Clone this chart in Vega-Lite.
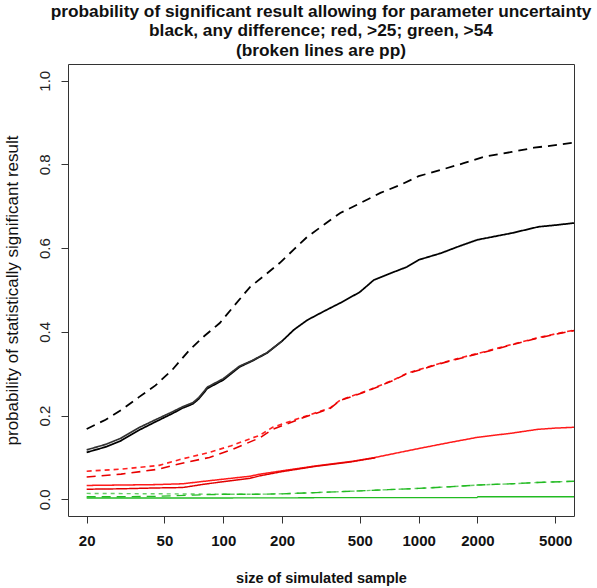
{
  "$schema": "https://vega.github.io/schema/vega-lite/v6.json",
  "width": 506,
  "height": 452,
  "autosize": {"type": "none"},
  "padding": {"left": 68, "top": 64, "right": 23, "bottom": 72},
  "background": "white",
  "view": {"stroke": "#333333", "strokeWidth": 1},
  "title": {
    "text": ["probability of significant result allowing for parameter uncertainty", "black, any difference; red, >25; green, >54", "(broken lines are pp)"],
    "font": "Liberation Sans",
    "fontSize": 17.3,
    "fontWeight": "bold",
    "lineHeight": 19.5,
    "anchor": "middle",
    "offset": 5,
    "color": "#111111"
  },
  "data": {
    "values": [
      {"series": "A", "n": 20, "p": 0.168}, {"series": "A", "n": 25, "p": 0.19}, {"series": "A", "n": 30, "p": 0.213}, {"series": "A", "n": 37, "p": 0.244}, {"series": "A", "n": 45, "p": 0.272}, {"series": "A", "n": 55, "p": 0.31}, {"series": "A", "n": 67, "p": 0.356}, {"series": "A", "n": 80, "p": 0.39}, {"series": "A", "n": 96, "p": 0.421}, {"series": "A", "n": 115, "p": 0.465}, {"series": "A", "n": 137, "p": 0.507}, {"series": "A", "n": 165, "p": 0.537}, {"series": "A", "n": 195, "p": 0.565}, {"series": "A", "n": 230, "p": 0.597}, {"series": "A", "n": 269, "p": 0.627}, {"series": "A", "n": 330, "p": 0.657}, {"series": "A", "n": 397, "p": 0.684}, {"series": "A", "n": 500, "p": 0.707}, {"series": "A", "n": 637, "p": 0.732}, {"series": "A", "n": 805, "p": 0.751}, {"series": "A", "n": 1000, "p": 0.772}, {"series": "A", "n": 1300, "p": 0.787}, {"series": "A", "n": 1700, "p": 0.803}, {"series": "A", "n": 2150, "p": 0.818}, {"series": "A", "n": 3000, "p": 0.83}, {"series": "A", "n": 3900, "p": 0.84}, {"series": "A", "n": 5000, "p": 0.846}, {"series": "A", "n": 6238, "p": 0.852},
      {"series": "B", "n": 20, "p": 0.112}, {"series": "B", "n": 25, "p": 0.125}, {"series": "B", "n": 30, "p": 0.14}, {"series": "B", "n": 37, "p": 0.165}, {"series": "B", "n": 45, "p": 0.185}, {"series": "B", "n": 55, "p": 0.205}, {"series": "B", "n": 62, "p": 0.218}, {"series": "B", "n": 70, "p": 0.228}, {"series": "B", "n": 75, "p": 0.24}, {"series": "B", "n": 83, "p": 0.265}, {"series": "B", "n": 100, "p": 0.285}, {"series": "B", "n": 121, "p": 0.316}, {"series": "B", "n": 140, "p": 0.33}, {"series": "B", "n": 167, "p": 0.349}, {"series": "B", "n": 200, "p": 0.378}, {"series": "B", "n": 230, "p": 0.405}, {"series": "B", "n": 269, "p": 0.428}, {"series": "B", "n": 330, "p": 0.45}, {"series": "B", "n": 397, "p": 0.469}, {"series": "B", "n": 500, "p": 0.495}, {"series": "B", "n": 590, "p": 0.524}, {"series": "B", "n": 700, "p": 0.538}, {"series": "B", "n": 870, "p": 0.555}, {"series": "B", "n": 1000, "p": 0.572}, {"series": "B", "n": 1300, "p": 0.588}, {"series": "B", "n": 1600, "p": 0.604}, {"series": "B", "n": 2000, "p": 0.62}, {"series": "B", "n": 3000, "p": 0.636}, {"series": "B", "n": 4100, "p": 0.651}, {"series": "B", "n": 5000, "p": 0.655}, {"series": "B", "n": 6238, "p": 0.66},
      {"series": "C", "n": 20, "p": 0.118}, {"series": "C", "n": 25, "p": 0.131}, {"series": "C", "n": 30, "p": 0.146}, {"series": "C", "n": 37, "p": 0.171}, {"series": "C", "n": 45, "p": 0.19}, {"series": "C", "n": 55, "p": 0.209}, {"series": "C", "n": 62, "p": 0.221}, {"series": "C", "n": 70, "p": 0.231}, {"series": "C", "n": 75, "p": 0.243}, {"series": "C", "n": 83, "p": 0.268}, {"series": "C", "n": 100, "p": 0.288}, {"series": "C", "n": 121, "p": 0.318}, {"series": "C", "n": 140, "p": 0.331}, {"series": "C", "n": 167, "p": 0.35}, {"series": "C", "n": 200, "p": 0.378},
      {"series": "D", "n": 20, "p": 0.067}, {"series": "D", "n": 30, "p": 0.072}, {"series": "D", "n": 47, "p": 0.081}, {"series": "D", "n": 60, "p": 0.095}, {"series": "D", "n": 85, "p": 0.112}, {"series": "D", "n": 110, "p": 0.128}, {"series": "D", "n": 154, "p": 0.153}, {"series": "D", "n": 179, "p": 0.172}, {"series": "D", "n": 250, "p": 0.195}, {"series": "D", "n": 352, "p": 0.218}, {"series": "D", "n": 397, "p": 0.237}, {"series": "D", "n": 550, "p": 0.26}, {"series": "D", "n": 742, "p": 0.285}, {"series": "D", "n": 870, "p": 0.301}, {"series": "D", "n": 1291, "p": 0.325}, {"series": "D", "n": 1700, "p": 0.34}, {"series": "D", "n": 2149, "p": 0.352}, {"series": "D", "n": 3000, "p": 0.37}, {"series": "D", "n": 4000, "p": 0.385}, {"series": "D", "n": 5000, "p": 0.395}, {"series": "D", "n": 6238, "p": 0.404},
      {"series": "E", "n": 20, "p": 0.053}, {"series": "E", "n": 30, "p": 0.06}, {"series": "E", "n": 47, "p": 0.072}, {"series": "E", "n": 60, "p": 0.085}, {"series": "E", "n": 85, "p": 0.1}, {"series": "E", "n": 110, "p": 0.118}, {"series": "E", "n": 154, "p": 0.147}, {"series": "E", "n": 179, "p": 0.167}, {"series": "E", "n": 250, "p": 0.193}, {"series": "E", "n": 352, "p": 0.217}, {"series": "E", "n": 397, "p": 0.236}, {"series": "E", "n": 550, "p": 0.259}, {"series": "E", "n": 742, "p": 0.284}, {"series": "E", "n": 870, "p": 0.3}, {"series": "E", "n": 1291, "p": 0.324}, {"series": "E", "n": 1700, "p": 0.339}, {"series": "E", "n": 2149, "p": 0.351}, {"series": "E", "n": 3000, "p": 0.369}, {"series": "E", "n": 4000, "p": 0.384}, {"series": "E", "n": 5000, "p": 0.394}, {"series": "E", "n": 6238, "p": 0.403},
      {"series": "F", "n": 20, "p": 0.033}, {"series": "F", "n": 30, "p": 0.034}, {"series": "F", "n": 45, "p": 0.035}, {"series": "F", "n": 62, "p": 0.037}, {"series": "F", "n": 80, "p": 0.043}, {"series": "F", "n": 100, "p": 0.048}, {"series": "F", "n": 137, "p": 0.055}, {"series": "F", "n": 154, "p": 0.06}, {"series": "F", "n": 200, "p": 0.068}, {"series": "F", "n": 300, "p": 0.08}, {"series": "F", "n": 447, "p": 0.09}, {"series": "F", "n": 600, "p": 0.1}, {"series": "F", "n": 800, "p": 0.112}, {"series": "F", "n": 1021, "p": 0.122}, {"series": "F", "n": 1455, "p": 0.136}, {"series": "F", "n": 2000, "p": 0.148}, {"series": "F", "n": 3000, "p": 0.158}, {"series": "F", "n": 4064, "p": 0.167}, {"series": "F", "n": 5000, "p": 0.17}, {"series": "F", "n": 6238, "p": 0.172},
      {"series": "G", "n": 20, "p": 0.024}, {"series": "G", "n": 30, "p": 0.025}, {"series": "G", "n": 45, "p": 0.027}, {"series": "G", "n": 62, "p": 0.028}, {"series": "G", "n": 80, "p": 0.036}, {"series": "G", "n": 100, "p": 0.042}, {"series": "G", "n": 137, "p": 0.05}, {"series": "G", "n": 154, "p": 0.056}, {"series": "G", "n": 200, "p": 0.066}, {"series": "G", "n": 300, "p": 0.079}, {"series": "G", "n": 447, "p": 0.089}, {"series": "G", "n": 600, "p": 0.099},
      {"series": "H", "n": 20, "p": 0.014}, {"series": "H", "n": 50, "p": 0.013}, {"series": "H", "n": 100, "p": 0.012}, {"series": "H", "n": 150, "p": 0.012}, {"series": "H", "n": 200, "p": 0.013}, {"series": "H", "n": 300, "p": 0.016}, {"series": "H", "n": 500, "p": 0.02}, {"series": "H", "n": 700, "p": 0.023}, {"series": "H", "n": 1000, "p": 0.026}, {"series": "H", "n": 1455, "p": 0.03}, {"series": "H", "n": 2000, "p": 0.034}, {"series": "H", "n": 3000, "p": 0.037}, {"series": "H", "n": 4000, "p": 0.04}, {"series": "H", "n": 6238, "p": 0.043},
      {"series": "I", "n": 20, "p": 0.006}, {"series": "I", "n": 30, "p": 0.006}, {"series": "I", "n": 45, "p": 0.007}, {"series": "I", "n": 70, "p": 0.01}, {"series": "I", "n": 100, "p": 0.012}, {"series": "I", "n": 150, "p": 0.012}, {"series": "I", "n": 200, "p": 0.013}, {"series": "I", "n": 300, "p": 0.016}, {"series": "I", "n": 500, "p": 0.02}, {"series": "I", "n": 700, "p": 0.023}, {"series": "I", "n": 1000, "p": 0.026}, {"series": "I", "n": 1455, "p": 0.03}, {"series": "I", "n": 2000, "p": 0.034}, {"series": "I", "n": 3000, "p": 0.037}, {"series": "I", "n": 4000, "p": 0.04}, {"series": "I", "n": 6238, "p": 0.043},
      {"series": "J", "n": 20, "p": 0.003}, {"series": "J", "n": 100, "p": 0.003}, {"series": "J", "n": 500, "p": 0.004}, {"series": "J", "n": 1990, "p": 0.004}, {"series": "J", "n": 2010, "p": 0.006}, {"series": "J", "n": 6238, "p": 0.006}
    ]
  },
  "mark": {"type": "line", "clip": true, "interpolate": "linear"},
  "encoding": {
    "x": {
      "field": "n", "type": "quantitative",
      "scale": {"type": "log", "domain": [16.05, 6238], "nice": false, "zero": false},
      "axis": {
        "title": "size of simulated sample",
        "values": [20, 50, 100, 200, 500, 1000, 2000, 5000],
        "format": "d",
        "grid": false, "domain": false,
        "tickSize": 7, "tickColor": "#333333", "tickWidth": 1,
        "labelPadding": 10,
        "labelFont": "Liberation Sans", "labelFontSize": 15, "labelFontWeight": "bold", "labelColor": "#111111",
        "labelBaseline": "top",
        "titleFont": "Liberation Sans", "titleFontSize": 14.5, "titleFontWeight": "bold", "titleColor": "#111111",
        "titleX": 253, "titleY": 62, "titleBaseline": "middle", "titleAnchor": "middle"
      }
    },
    "y": {
      "field": "p", "type": "quantitative",
      "scale": {"domain": [-0.04, 1.04], "nice": false, "zero": false},
      "axis": {
        "title": "probability of statistically significant result",
        "values": [0, 0.2, 0.4, 0.6, 0.8, 1.0],
        "format": ".1f",
        "grid": false, "domain": false,
        "tickSize": 7, "tickColor": "#333333", "tickWidth": 1,
        "labelAngle": -90, "labelAlign": "center", "labelBaseline": "bottom",
        "labelPadding": 9,
        "labelFont": "Liberation Sans", "labelFontSize": 15, "labelColor": "#222222",
        "titleFont": "Liberation Sans", "titleFontSize": 17, "titleFontWeight": "normal", "titleColor": "#111111",
        "titleAngle": -90, "titleX": -56, "titleY": 226, "titleBaseline": "middle", "titleAnchor": "middle"
      }
    },
    "detail": {"field": "series"},
    "color": {
      "field": "series", "type": "nominal", "legend": null,
      "scale": {
        "domain": ["A", "B", "C", "D", "E", "F", "G", "H", "I", "J"],
        "range": ["#000000", "#000000", "#333333", "#ff2020", "#e80000", "#ff1a1a", "#e00000", "#66cc66", "#22bb22", "#22bb22"]
      }
    },
    "strokeDash": {
      "field": "series", "type": "nominal", "legend": null,
      "scale": {
        "domain": ["A", "B", "C", "D", "E", "F", "G", "H", "I", "J"],
        "range": [[9, 6], [1, 0], [1, 0], [5, 4], [9, 6], [1, 0], [1, 0], [4, 4], [9, 6], [1, 0]]
      }
    },
    "strokeWidth": {
      "field": "series", "type": "nominal", "legend": null,
      "scale": {
        "domain": ["A", "B", "C", "D", "E", "F", "G", "H", "I", "J"],
        "range": [1.8, 1.3, 1, 1.2, 1.6, 1.1, 1.1, 1.2, 1.8, 1.6]
      }
    }
  }
}
